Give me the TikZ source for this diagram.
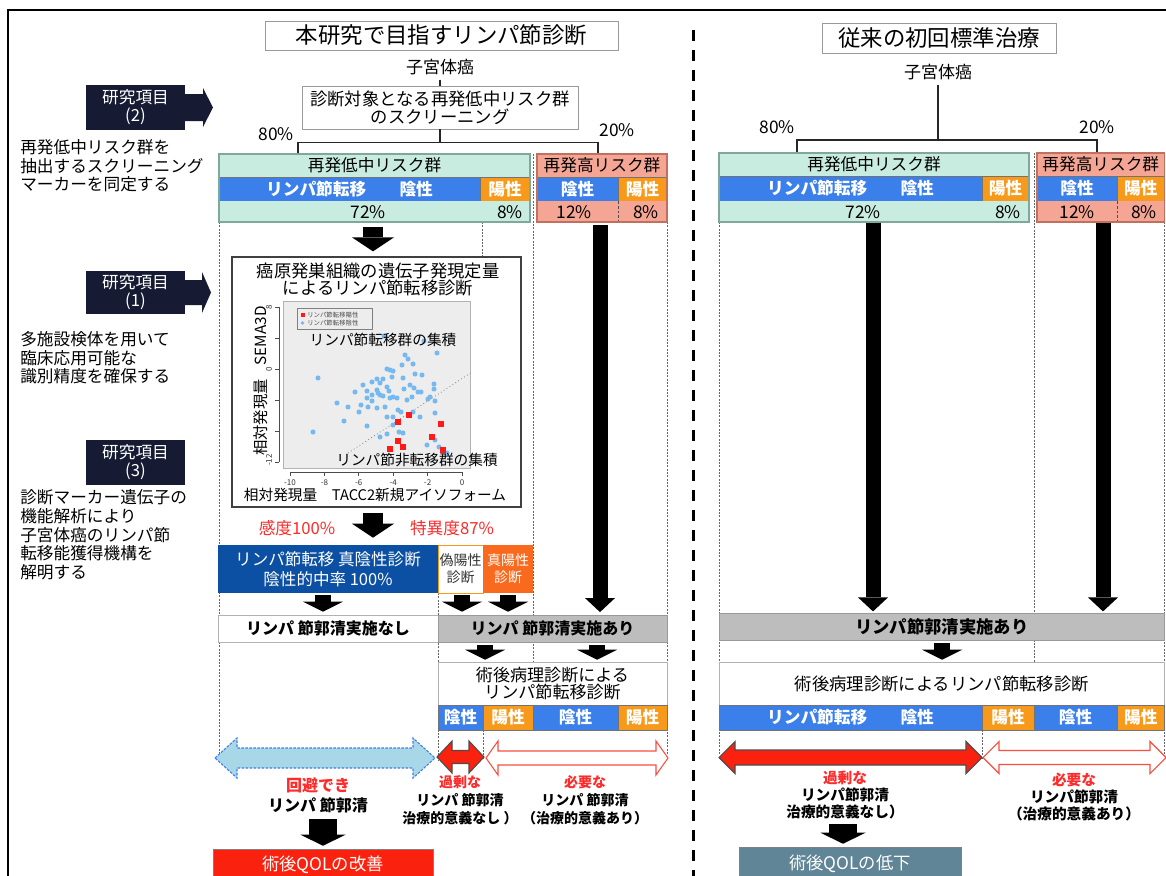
\documentclass[tikz,border=0pt]{standalone}
\usepackage{fontspec}
\setmainfont{Noto Sans CJK JP}
\usetikzlibrary{arrows.meta,fit,calc}
\definecolor{teal1}{HTML}{C8ECE0}
\definecolor{tealb}{HTML}{7FA89A}
\definecolor{salm}{HTML}{F4A594}
\definecolor{salmb}{HTML}{C0705F}
\definecolor{bbar}{HTML}{3B7FEA}
\definecolor{obar}{HTML}{F79A1C}
\definecolor{dblue}{HTML}{0C50A3}
\definecolor{tposc}{HTML}{FA6A1E}
\definecolor{gbox}{HTML}{BDBDBD}
\definecolor{rboxc}{HTML}{FA220E}
\definecolor{sboxc}{HTML}{5F8597}
\definecolor{navy}{HTML}{161B33}
\definecolor{lblue}{HTML}{A8D8E8}
\definecolor{ptred}{HTML}{FF1A1A}
\definecolor{ptblue}{HTML}{76B9F0}
\definecolor{txtred}{HTML}{FF2A2A}
\definecolor{panel}{HTML}{EDEDED}
\newcommand{\rect}[6]{\node[fit={(#3,#4) (#5,#6)},inner sep=0pt,#1] (#2) {};}
\newcommand{\rbox}[8]{\node[fit={(#4,#5) (#6,#7)},inner sep=0pt,#1] (#3) {};\node[#2] (#3t) at (#3.center) {#8};}
\newcommand{\fz}[2]{\fontsize{#1pt}{#2pt}\selectfont}
\newcommand{\dblarrow}[7]{\draw[#7] (#1,#3) -- (#1+#6,#3-#5) -- (#1+#6,#3-#4) -- (#2-#6,#3-#4) -- (#2-#6,#3-#5) -- (#2,#3) -- (#2-#6,#3+#5) -- (#2-#6,#3+#4) -- (#1+#6,#3+#4) -- (#1+#6,#3+#5) -- cycle;}
\begin{document}
\begin{tikzpicture}[x=0.75pt,y=-0.75pt,
  every node/.style={font=\fz{13}{13.5}},
  tbox/.style={draw=black!40,fill=white,line width=0.6pt},
  conn/.style={draw=black!85,line width=1pt},
  thin/.style={draw=black!60,line width=0.5pt,dash pattern=on 1.5pt off 1pt},
  blkA/.style={line width=15pt,-{Triangle[width=31.5pt,length=10.5pt,line width=0pt]}},
  blkS/.style={line width=12pt,-{Triangle[width=30pt,length=7.5pt,line width=0pt]}},
  blkL/.style={line width=11.25pt,-{Triangle[width=22.5pt,length=10.5pt,line width=0pt]}},
  blkB/.style={line width=21pt,-{Triangle[width=33.75pt,length=8.25pt,line width=0pt]}},
  bar/.style={draw=black!55},
  wb/.style={text=white,font=\fz{12.5}{13}\bfseries},
  hd/.style={font=\fz{12.5}{13}},
  pc/.style={font=\fz{13}{13}},
  itmt/.style={text=white,align=center,font=\fz{12.5}{13.5}},
  desc/.style={anchor=west,align=left,inner sep=0pt,font=\fz{12.5}{14}},
  res/.style={align=center,font=\fz{10.5}{13.5}\bfseries},
]
\useasboundingbox (0,0) rectangle (1166,875);
\clip (0,0) rectangle (1166,875);
\fill[white] (0,0) rectangle (1166,875);
% frame and divider
\draw[line width=1.5pt] (8,880) -- (8,10) -- (1170,10);
\draw[line width=2.25pt,dash pattern=on 8.25pt off 6.75pt] (693,30) -- (693,880);
% thin dashed guides
\draw[thin] (219,222) -- (219,760);
\draw[thin] (482,222) -- (482,257);
\draw[thin] (533,154) -- (533,662);
\draw[thin] (667,222) -- (667,755);
\draw[thin] (438,593) -- (438,760);
\draw[thin] (483,730) -- (483,760);
\draw[thin] (719,222) -- (719,755);
\draw[thin] (1034,153) -- (1034,662);
\draw[thin] (1164.5,222) -- (1164.5,755);
\draw[thin] (982,730) -- (982,760);

%================ LEFT COLUMN =================
\rbox{fill=navy}{itmt}{item2}{86}{85}{185}{130}{研究項目\\(2)}
\fill[navy] (184,94) -- (203,94) -- (203,88) -- (213,107.5) -- (203,127) -- (203,121) -- (184,121) -- cycle;
\node[desc] (descA) at (20,166) {再発低中リスク群を\\抽出するスクリーニング\\マーカーを同定する};
\rbox{fill=navy}{itmt}{item1}{86}{271}{185}{314}{研究項目\\(1)}
\fill[navy] (184,280) -- (202,280) -- (202,272) -- (211,292.5) -- (202,313) -- (202,305) -- (184,305) -- cycle;
\node[desc] (descB) at (20,358) {多施設検体を用いて\\臨床応用可能な\\識別精度を確保する};
\rbox{fill=navy}{itmt}{item3}{86}{440}{185}{485}{研究項目\\(3)}
\node[desc] (descC) at (20,535) {診断マーカー遺伝子の\\機能解析により\\子宮体癌のリンパ節\\転移能獲得機構を\\解明する};

%================ LEFT SECTION =================
\rbox{tbox}{font=\fz{16.8}{18}}{titleA}{265}{21}{618}{50}{本研究で目指すリンパ節診断}
\node[font=\fz{12.75}{13}] (cancerA) at (440,67) {子宮体癌};
\rbox{tbox}{align=center,font=\fz{13}{13.5}}{screen}{302}{86}{578}{129}{診断対象となる再発低中リスク群\\のスクリーニング}
\draw[conn] (cancerA.south) -- (screen.north);
\coordinate (bA1) at (298,154);
\coordinate (bA2) at (598,154);
\draw[conn] (screen.south) -- ++(0,13) coordinate (jA);
\draw[conn] (bA1) |- (jA) -| (bA2);
\node[pc] (p80A) at (276,134) {80\%};
\node[pc] (p20A) at (617,130) {20\%};
% low-mid risk
\rbox{fill=teal1}{hd}{lowhA}{219}{154}{530}{177}{再発低中リスク群}
\rbox{fill=bbar,bar}{wb}{lownA}{219}{177}{480}{201}{リンパ節転移\hspace{2em}陰性}
\rbox{fill=obar,bar}{wb}{lowpA}{480}{177}{530}{201}{陽性}
\rect{fill=teal1}{lowrA}{219}{201}{530}{222}
\node[pc] (l72A) at (368,212) {72\%};
\node[pc] (l8A) at (510,212) {8\%};
\rect{draw=tealb,line width=0.8pt}{lowA}{219}{154}{530}{222}
% high risk
\rbox{fill=salm}{hd}{highhA}{537}{154}{667}{177}{再発高リスク群}
\rbox{fill=bbar,bar}{wb}{highnA}{537}{177}{618}{201}{陰性}
\rbox{fill=obar,bar}{wb}{highpA}{618}{177}{667}{201}{陽性}
\rect{fill=salm}{highrA}{537}{201}{667}{222}
\draw[black!70,line width=0.6pt,dash pattern=on 2pt off 1.5pt] (highnA.south east) -- (highrA.south -| highnA.east);
\node[pc] (h12A) at (574,212) {12\%};
\node[pc] (h8A) at (646,212) {8\%};
\rect{draw=salmb,line width=0.8pt}{highA}{537}{154}{667}{222}

% plot box
\rect{draw=black!75,fill=white,line width=0.9pt}{plot}{232}{257}{521}{507}
\draw[blkA,shorten <=3pt,shorten >=3.75pt] (373,0 |- lowA.south) -- (373,0 |- plot.north);
\node (plotT1) at (378,271) {癌原発巣組織の遺伝子発現定量};
\node (plotT2) at (378,288) {によるリンパ節転移診断};
\fill[panel] (283,301) rectangle (470,468);
\draw[black!30,line width=0.4pt] (283,301) rectangle (470,468);
\draw[black!70,line width=0.5pt] (279,307) -- (279,462);
\foreach \yy in {307,338,369,400,431,462} \draw[black!70,line width=0.5pt] (279,\yy) -- (275,\yy);
\draw[black!70,line width=0.5pt] (290,472) -- (462,472);
\foreach \xx/\lab [count=\i] in {290/-10,324.4/-8,358.8/-6,393.2/-4,427.6/-2,462/0} {
  \draw[black!70,line width=0.5pt] (\xx,472) -- (\xx,476);
  \node[font=\fz{6}{6},text=black!80] (xt\i) at (\xx,483) {\lab};
}
\node[rotate=90,font=\fz{6}{6},text=black!80] (yt1) at (269,307) {8};
\node[rotate=90,font=\fz{6}{6},text=black!80] (yt2) at (269,369) {0};
\node[rotate=90,font=\fz{6}{6},text=black!80] (yt3) at (269,460) {-12};
\node[rotate=90,font=\fz{11.5}{11.5}] (ylab) at (261,381) {相対発現量\hspace{0.9em}SEMA3D};
\node[font=\fz{11}{11}] (xlab) at (375,495) {相対発現量\hspace{1em}TACC2新規アイソフォーム};
\draw[black!50,dotted,line width=0.6pt] (348,453) -- (472,372);
\foreach \p in {(384,336),(424,341),(437,353),(405,355),(408,359),(402,365),(413,364),(387,369),(390,370),(393,371),(318,378),(403,378),(415,374),(422,375),(434,384),(434,389),(372,382),(377,379),(383,379),(380,383),(392,377),(363,385),(355,392),(367,391),(377,390),(378,393),(387,387),(389,391),(404,389),(410,385),(414,388),(418,392),(421,392),(407,400),(397,398),(393,397),(390,398),(383,396),(380,395),(372,395),(367,398),(372,401),(412,397),(428,399),(430,397),(435,401),(337,403),(348,407),(359,412),(368,407),(377,408),(385,407),(398,410),(401,412),(413,412),(420,417),(435,413),(387,417),(393,417),(344,421),(367,426),(393,425),(387,434),(380,437),(313,432),(403,433),(427,445),(435,440),(439,447),(447,453),(399,432),(361,405)}
  \fill[ptblue] \p circle[radius=1.9pt];
\foreach \p in {(409,415),(398,422),(441,424),(432,437),(398,441),(403,447),(390,449),(443,450)}
  \fill[ptred] \p ++(-2.6,-2.6) rectangle ++(5.2,5.2);
\draw[black!50,fill=panel,line width=0.5pt] (297,308) rectangle (372,329);
\fill[ptred] (300.5,313) rectangle (304.5,317);
\fill[ptblue] (302.5,323) circle[radius=1.4pt];
\node[anchor=west,inner sep=0pt,font=\fz{4.8}{5},text=black!70] (legp) at (307,315) {リンパ節転移陽性};
\node[anchor=west,inner sep=0pt,font=\fz{4.8}{5},text=black!70] (legn) at (307,323) {リンパ節転移陰性};
\node[font=\fz{11}{11}] (clus1) at (383,340) {リンパ節転移群の集積};
\node[font=\fz{11}{11}] (clus2) at (417,460) {リンパ節非転移群の集積};

\node[text=txtred,font=\fz{12.5}{13}] (sens) at (297,528) {感度100\%};
\node[text=txtred,font=\fz{12.5}{13}] (spec) at (452,528) {特異度87\%};

\rbox{fill=dblue}{text=white,align=center,font=\fz{12.4}{15}}{tneg}{218}{545}{438}{593}{リンパ節転移\ 真陰性診断\\陰性的中率\ 100\%}
\rbox{fill=white,draw=obar}{text=black!80,align=center,font=\fz{10.5}{12.75}}{fpos}{438}{545}{483}{593}{偽陽性\\診断}
\rbox{fill=tposc}{text=white,align=center,font=\fz{10.5}{12.75}}{tpos}{483}{545}{533}{593}{真陽性\\診断}
\draw[blkA,shorten <=3.75pt,shorten >=5.25pt] (373,0 |- plot.south) -- (373,0 |- tneg.north);

\rbox{fill=white,draw=black!30}{font=\fz{12}{12}\bfseries}{noA}{218}{615}{438}{642}{リンパ 節郭清実施なし}
\rbox{fill=gbox,draw=black!40}{font=\fz{12}{12}\bfseries}{yesA}{438}{615}{667}{642}{リンパ 節郭清実施あり}
\draw[blkS,shorten <=1.5pt,shorten >=2.25pt] (323,0 |- tneg.south) -- (323,0 |- noA.north);
\draw[blkS,shorten <=1.5pt,shorten >=2.25pt] (462,0 |- fpos.south) -- (462,0 |- yesA.north);
\draw[blkS,shorten <=1.5pt,shorten >=2.25pt] (508,0 |- tpos.south) -- (508,0 |- yesA.north);
\draw[blkL,shorten <=2pt,shorten >=2pt] (600,0 |- highA.south) -- (600,0 |- yesA.north);

\rbox{fill=white,draw=black!30}{align=center,font=\fz{12.8}{12.75}}{pathA}{438}{662}{667}{705}{術後病理診断による\\リンパ節転移診断}
\draw[blkS,shorten <=2.25pt,shorten >=1.5pt] (485,0 |- yesA.south) -- (485,0 |- pathA.north);
\draw[blkS,shorten <=2.25pt,shorten >=1.5pt] (597,0 |- yesA.south) -- (597,0 |- pathA.north);
\rbox{fill=bbar,bar}{wb}{pbA1}{438}{705}{483}{730}{陰性}
\rbox{fill=obar,bar}{wb}{pbA2}{483}{705}{533}{730}{陽性}
\rbox{fill=bbar,bar}{wb}{pbA3}{533}{705}{618}{730}{陰性}
\rbox{fill=obar,bar}{wb}{pbA4}{618}{705}{667}{730}{陽性}

\dblarrow{215}{435}{758}{10}{20}{22}{fill=lblue,draw=bbar,dash pattern=on 2pt off 1pt,line width=0.8pt}
\dblarrow{437}{484}{757}{6.5}{16}{15}{fill=rboxc,draw=black!70,line width=0.8pt}
\dblarrow{486}{668}{758}{7}{17}{12}{fill=white,draw=rboxc!80,line width=0.8pt}

\node[align=center,font=\fz{12}{15}\bfseries] (avoidA) at (318,795) {\textcolor{txtred}{回避でき}\\リンパ 節郭清};
\node[res] (excessA) at (460,800) {\textcolor{txtred}{過剰な}\\リンパ 節郭清\\治療的意義なし ）};
\node[res] (needA) at (585,800) {\textcolor{txtred}{必要な}\\リンパ 節郭清\\（治療的意義あり）};
\rbox{fill=rboxc,draw=black!50}{text=white,font=\fz{13}{13}}{qolA}{213}{849}{433}{880}{術後QOLの改善}
\draw[blkB,shorten <=1.5pt,shorten >=2.25pt] (323,0 |- avoidA.south) -- (323,0 |- qolA.north);

%================ RIGHT SECTION =================
\rbox{tbox}{font=\fz{16.8}{18}}{titleB}{822}{23}{1056}{53}{従来の初回標準治療}
\node[font=\fz{12.75}{13}] (cancerB) at (938,72) {子宮体癌};
\coordinate (bB1) at (797,153);
\coordinate (bB2) at (1097,153);
\draw[conn] (cancerB.south) -- (938,140) coordinate (jB);
\draw[conn] (bB1) |- (jB) -| (bB2);
\node[pc] (p80B) at (777,127) {80\%};
\node[pc] (p20B) at (1097,127) {20\%};
\rbox{fill=teal1}{hd}{lowhB}{719}{153}{1029}{176}{再発低中リスク群}
\rbox{fill=bbar,bar}{wb}{lownB}{719}{176}{982}{201}{リンパ節転移\hspace{2em}陰性}
\rbox{fill=obar,bar}{wb}{lowpB}{982}{176}{1029}{201}{陽性}
\rect{fill=teal1}{lowrB}{719}{201}{1029}{222}
\node[pc] (l72B) at (863,212) {72\%};
\node[pc] (l8B) at (1008,212) {8\%};
\rect{draw=tealb,line width=0.8pt}{lowB}{719}{153}{1029}{222}
\rbox{fill=salm}{hd}{highhB}{1037}{153}{1164.5}{176}{再発高リスク群}
\rbox{fill=bbar,bar}{wb}{highnB}{1037}{176}{1117}{201}{陰性}
\rbox{fill=obar,bar}{wb}{highpB}{1117}{176}{1164.5}{201}{陽性}
\rect{fill=salm}{highrB}{1037}{201}{1164.5}{222}
\draw[black!70,line width=0.6pt,dash pattern=on 2pt off 1.5pt] (highnB.south east) -- (highrB.south -| highnB.east);
\node[pc] (h12B) at (1077,212) {12\%};
\node[pc] (h8B) at (1144,212) {8\%};
\rect{draw=salmb,line width=0.8pt}{highB}{1037}{153}{1164.5}{222}

\rbox{fill=gbox,draw=black!40}{font=\fz{13}{13}\bfseries}{yesB}{719}{613}{1164.5}{640}{リンパ節郭清実施あり}
\draw[blkL,shorten >=1pt] (873,0 |- lowB.south) -- (873,0 |- yesB.north);
\draw[blkL,shorten >=1pt] (1103,0 |- highB.south) -- (1103,0 |- yesB.north);
\rbox{fill=white,draw=black!30}{font=\fz{13}{13}}{pathB}{719}{662}{1164.5}{705}{術後病理診断によるリンパ節転移診断}
\draw[blkS,shorten <=2.25pt,shorten >=1.5pt] (942,0 |- yesB.south) -- (942,0 |- pathB.north);
\rbox{fill=bbar,bar}{wb}{pbB1}{719}{705}{982}{730}{リンパ節転移\hspace{2em}陰性}
\rbox{fill=obar,bar}{wb}{pbB2}{982}{705}{1034}{730}{陽性}
\rbox{fill=bbar,bar}{wb}{pbB3}{1034}{705}{1117}{730}{陰性}
\rbox{fill=obar,bar}{wb}{pbB4}{1117}{705}{1164.5}{730}{陽性}

\dblarrow{719}{982}{757.5}{7.5}{16}{16}{fill=rboxc,draw=black!70,line width=0.8pt}
\dblarrow{983}{1166}{757.5}{7}{16}{16}{fill=white,draw=rboxc!80,line width=0.8pt}

\node[align=center,font=\fz{11}{12.75}\bfseries] (excessB) at (845,795) {\textcolor{txtred}{過剰な}\\リンパ節郭清\\治療的意義なし）};
\node[align=center,font=\fz{11}{12.75}\bfseries] (needB) at (1074,797) {\textcolor{txtred}{必要な}\\リンパ節郭清\\（治療的意義あり）};
\rbox{fill=sboxc,draw=black!50}{text=white,font=\fz{13}{13}}{qolB}{739}{847}{961}{880}{術後QOLの低下}
\draw[blkB,shorten >=2.25pt] (843,0 |- excessB.south) -- (843,0 |- qolB.north);
\end{tikzpicture}
\end{document}
